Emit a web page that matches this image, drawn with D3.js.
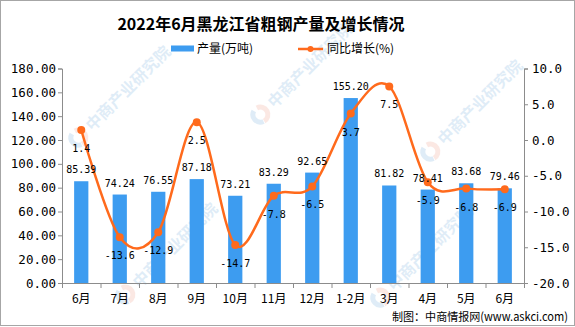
<!DOCTYPE html>
<html lang="zh">
<head>
	<meta charset="UTF-8">
	<title>2022年6月黑龙江省粗钢产量及增长情况</title>
	<script src="https://cdnjs.cloudflare.com/ajax/libs/d3/7.8.5/d3.min.js"></script>
	<style>
		body { margin: 0; background: #fff; }
		svg { display: block; }
		.num { font-family: "DejaVu Sans Mono", "Liberation Mono", monospace; }
		.cjk { font-family: "Noto Sans CJK SC", sans-serif; }
	</style>
</head>
<body>
	<svg id="viz"></svg>
	<script>
		const categories = ['6月', '7月', '8月', '9月', '10月', '11月', '12月', '1-2月', '3月', '4月', '5月', '6月'];
		const output = [85.39, 74.24, 76.55, 87.18, 73.21, 83.29, 92.65, 155.20, 81.82, 78.41, 83.68, 79.46];
		const growth = [1.4, -13.6, -12.9, 2.5, -14.7, -7.8, -6.5, 3.7, 7.5, -5.9, -6.8, -6.9];
		const leftTicks = [0, 20, 40, 60, 80, 100, 120, 140, 160, 180];
		const rightTicks = [-20, -15, -10, -5, 0, 5, 10];

		const width = 575;
		const height = 327;
		const plotL = 62, plotR = 524, plotT = 68.5, plotB = 283;
		const blue = '#3d9cf0';
		const orange = '#ff6a1c';
		const axisColor = '#8c8c8c';

		const svg = d3.select('#viz')
			.attr('width', width)
			.attr('height', height);

		// faint watermarks, kept inside the frame
		const marks = [[118, 98], [300, 75], [470, 112], [165, 255], [420, 258]];
		marks.forEach(([mx, my]) => {
			const g = svg.append('g').attr('transform', `translate(${mx},${my}) rotate(-45)`).attr('opacity', 0.16);
			g.append('path').attr('d', d3.arc()({innerRadius: 5, outerRadius: 10, startAngle: 0.3, endAngle: 3.4}))
				.attr('transform', 'translate(-56,0)').attr('fill', '#e8735a');
			g.append('path').attr('d', d3.arc()({innerRadius: 5, outerRadius: 10, startAngle: 3.5, endAngle: 6.0}))
				.attr('transform', 'translate(-56,0)').attr('fill', '#3d8fd0');
			g.append('text').attr('class', 'cjk').attr('x', -42).attr('y', 6)
				.attr('font-size', 16).attr('font-weight', 'bold').attr('fill', '#3d8fd0')
				.text('中商产业研究院');
		});

		svg.append('rect')
			.attr('x', 0.5).attr('y', 0.5)
			.attr('width', width - 1).attr('height', height - 2)
			.attr('fill', 'none').attr('stroke', '#a6a6a6');

		const x = d3.scaleBand()
			.domain(d3.range(categories.length))
			.range([plotL, plotR])
			.paddingInner(0.63)
			.paddingOuter(0.315);
		const xEdge = d3.scaleLinear()
			.domain([0, categories.length])
			.range([plotL, plotR]);
		const yL = d3.scaleLinear().domain([0, 180]).range([plotB, plotT]);
		const yR = d3.scaleLinear().domain([-20, 10]).range([plotB, plotT]);

		// bars
		svg.selectAll('rect.bar')
			.data(output)
			.enter()
			.append('rect')
			.attr('class', 'bar')
			.attr('x', (d, i) => x(i))
			.attr('width', x.bandwidth())
			.attr('y', d => yL(d))
			.attr('height', d => yL(0) - yL(d))
			.attr('fill', blue);

		// axes
		const leftAxis = d3.axisLeft(yL).tickValues(leftTicks).tickSize(4).tickFormat(d => d.toFixed(2));
		const gl = svg.append('g').attr('transform', `translate(${plotL},0)`).call(leftAxis);
		const rightAxis = d3.axisRight(yR).tickValues(rightTicks).tickSize(4).tickFormat(d => d.toFixed(1));
		const gr = svg.append('g').attr('transform', `translate(${plotR},0)`).call(rightAxis);
		const bottomAxis = d3.axisBottom(xEdge).ticks(categories.length).tickSize(5).tickFormat('');
		const gb = svg.append('g').attr('transform', `translate(0,${plotB})`).call(bottomAxis);

		[gl, gr, gb].forEach(g => {
			g.select('.domain').attr('stroke', axisColor);
			g.selectAll('.tick line').attr('stroke', axisColor);
			g.selectAll('.tick text')
				.attr('class', 'num')
				.attr('font-size', 12.5)
				.attr('fill', '#000');
		});
		gl.selectAll('.tick text').attr('x', -6);
		gr.selectAll('.tick text').attr('x', 8);

		svg.selectAll('text.cat')
			.data(categories)
			.enter()
			.append('text')
			.attr('class', 'cjk')
			.attr('x', (d, i) => x(i) + x.bandwidth() / 2)
			.attr('y', 303)
			.attr('text-anchor', 'middle')
			.attr('font-size', 12)
			.text(d => d);

		// growth line (smoothed like the original)
		const cx = i => x(i) + x.bandwidth() / 2;
		const line = d3.line()
			.x((d, i) => cx(i))
			.y(d => yR(d))
			.curve(d3.curveCardinal.tension(0));
		svg.append('path')
			.datum(growth)
			.attr('d', line)
			.attr('fill', 'none')
			.attr('stroke', orange)
			.attr('stroke-width', 2.5);
		svg.selectAll('circle.pt')
			.data(growth)
			.enter()
			.append('circle')
			.attr('cx', (d, i) => cx(i))
			.attr('cy', d => yR(d))
			.attr('r', 4)
			.attr('fill', orange);

		// labels
		svg.selectAll('text.barlab')
			.data(output)
			.enter()
			.append('text')
			.attr('class', 'num')
			.attr('x', (d, i) => cx(i))
			.attr('y', d => yL(d) - 8)
			.attr('text-anchor', 'middle')
			.attr('font-size', 10)
			.text(d => d.toFixed(2));
		svg.selectAll('text.linelab')
			.data(growth)
			.enter()
			.append('text')
			.attr('class', 'num')
			.attr('x', (d, i) => cx(i))
			.attr('y', d => yR(d) + 22)
			.attr('text-anchor', 'middle')
			.attr('font-size', 10)
			.text(d => d.toFixed(1));

		// title and legend
		svg.append('text')
			.attr('class', 'cjk')
			.attr('x', 261).attr('y', 30)
			.attr('text-anchor', 'middle')
			.attr('font-size', 16).attr('font-weight', 'bold')
			.text('2022年6月黑龙江省粗钢产量及增长情况');

		svg.append('rect').attr('x', 171).attr('y', 45.5).attr('width', 23).attr('height', 6).attr('fill', blue);
		svg.append('text').attr('class', 'cjk').attr('x', 197).attr('y', 53).attr('font-size', 12).text('产量(万吨)');
		svg.append('line').attr('x1', 298).attr('x2', 323).attr('y1', 49).attr('y2', 49)
			.attr('stroke', orange).attr('stroke-width', 2.5);
		svg.append('circle').attr('cx', 310.5).attr('cy', 49).attr('r', 3).attr('fill', orange);
		svg.append('text').attr('class', 'cjk').attr('x', 327).attr('y', 53).attr('font-size', 12).text('同比增长(%)');

		svg.append('text')
			.attr('class', 'cjk')
			.attr('x', 392).attr('y', 321)
			.attr('font-size', 11.5)
			.attr('textLength', 176)
			.attr('lengthAdjust', 'spacingAndGlyphs')
			.text('制图：中商情报网(www.askci.com)');
	</script>
</body>
</html>
